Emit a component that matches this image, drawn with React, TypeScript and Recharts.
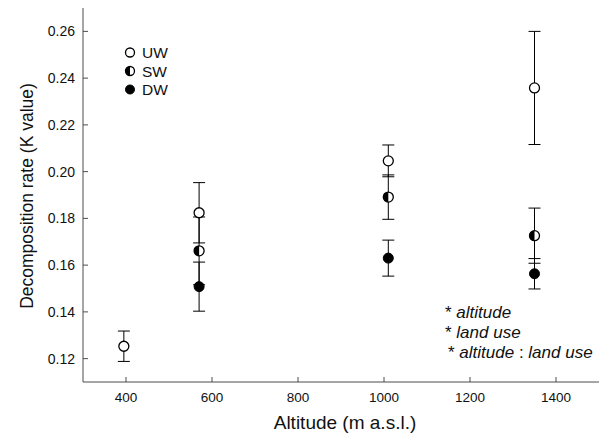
import { Customized, ErrorBar, Scatter, ScatterChart, XAxis, YAxis } from 'recharts';

const FONT = '"Liberation Sans", Arial, sans-serif';
const AXIS = '#4d4d4d';

// altitude (m a.s.l.), mean K value, standard error
const uwAltitude = [395, 570, 1010, 1350];
const uwMean = [0.1253, 0.1824, 0.2046, 0.2358];
const uwErr = [0.0065, 0.0129, 0.0068, 0.0242];

const swAltitude = [570, 1010, 1350];
const swMean = [0.1661, 0.1891, 0.1726];
const swErr = [0.0145, 0.0095, 0.0118];

const dwAltitude = [570, 1010, 1350];
const dwMean = [0.1508, 0.163, 0.1563];
const dwErr = [0.0105, 0.0077, 0.0065];

const xTicks = [400, 600, 800, 1000, 1200, 1400];
const yTicks = [0.12, 0.14, 0.16, 0.18, 0.2, 0.22, 0.24, 0.26];

const legendItems = [
  { label: 'UW', kind: 'open' },
  { label: 'SW', kind: 'half' },
  { label: 'DW', kind: 'filled' },
];

const toRows = (alt: number[], mean: number[], err: number[]) =>
  alt.map((a, i) => ({ alt: a, k: mean[i], err: err[i] }));

const uw = toRows(uwAltitude, uwMean, uwErr);
const sw = toRows(swAltitude, swMean, swErr);
const dw = toRows(dwAltitude, dwMean, dwErr);

type Kind = 'open' | 'half' | 'filled';

function Dot({ cx, cy, kind, r = 5 }: { cx: number; cy: number; kind: Kind; r?: number }) {
  if (kind === 'filled') {
    return <circle cx={cx} cy={cy} r={r} fill="#000" stroke="#000" strokeWidth={1} />;
  }
  return (
    <g>
      <circle cx={cx} cy={cy} r={r} fill="#fff" stroke="#000" strokeWidth={1.3} />
      {kind === 'half' && (
        <path d={`M${cx},${cy - r} A${r},${r} 0 0 0 ${cx},${cy + r} Z`} fill="#000" />
      )}
    </g>
  );
}

function Extras() {
  return (
    <g fontFamily={FONT} fill="#111">
      {legendItems.map((it, i) => (
        <g key={it.label}>
          <Dot cx={130} cy={52.5 + i * 18.5} kind={it.kind as Kind} r={4.5} />
          <text x={142} y={58 + i * 18.5} fontSize={15.5}>
            {it.label}
          </text>
        </g>
      ))}
      <text x={445} y={318} fontSize={17}>
        * <tspan fontStyle="italic">altitude</tspan>
      </text>
      <text x={445} y={338} fontSize={17}>
        * <tspan fontStyle="italic">land use</tspan>
      </text>
      <text x={448} y={357.5} fontSize={17}>
        * <tspan fontStyle="italic">altitude</tspan> : <tspan fontStyle="italic">land use</tspan>
      </text>
      <text x={345} y={429} fontSize={19} textAnchor="middle">
        Altitude (m a.s.l.)
      </text>
      <text
        x={33}
        y={196}
        fontSize={17.5}
        textAnchor="middle"
        transform="rotate(-90 33 196)"
      >
        Decomposition rate (K value)
      </text>
    </g>
  );
}

export default function App() {
  const xTick = { fill: '#111', fontSize: 13.5, fontFamily: FONT };
  const yTick = { fill: '#111', fontSize: 14, fontFamily: FONT };
  return (
    <div style={{ position: 'absolute', left: 0, top: 0, background: '#fff' }}>
      <ScatterChart width={602} height={436} margin={{ top: 8, right: 3, bottom: 0, left: 23 }}>
        <XAxis
          type="number"
          dataKey="alt"
          domain={[300, 1500]}
          ticks={xTicks}
          allowDataOverflow
          height={54}
          tickSize={-5}
          tickMargin={15}
          stroke={AXIS}
          tick={xTick}
        />
        <XAxis xAxisId="top" orientation="top" type="number" domain={[300, 1500]} height={0} tick={false} tickLine={false} stroke={AXIS} />
        <YAxis
          type="number"
          dataKey="k"
          domain={[0.11, 0.27]}
          ticks={yTicks}
          allowDataOverflow
          width={60}
          tickSize={-5}
          tickMargin={13}
          stroke={AXIS}
          tick={yTick}
          tickFormatter={(v: number) => v.toFixed(2)}
        />
        <YAxis yAxisId="right" orientation="right" type="number" domain={[0.11, 0.27]} width={0} tick={false} tickLine={false} stroke={AXIS} />
        <Scatter
          name="UW"
          data={uw}
          isAnimationActive={false}
          shape={(p: any) => <Dot cx={p.cx} cy={p.cy} kind="open" />}
        >
          <ErrorBar dataKey="err" direction="y" width={6} stroke="#000" strokeWidth={1} isAnimationActive={false} />
        </Scatter>
        <Scatter
          name="SW"
          data={sw}
          isAnimationActive={false}
          shape={(p: any) => <Dot cx={p.cx} cy={p.cy} kind="half" />}
        >
          <ErrorBar dataKey="err" direction="y" width={6} stroke="#000" strokeWidth={1} isAnimationActive={false} />
        </Scatter>
        <Scatter
          name="DW"
          data={dw}
          isAnimationActive={false}
          shape={(p: any) => <Dot cx={p.cx} cy={p.cy} kind="filled" />}
        >
          <ErrorBar dataKey="err" direction="y" width={6} stroke="#000" strokeWidth={1} isAnimationActive={false} />
        </Scatter>
        <Customized component={Extras} />
      </ScatterChart>
    </div>
  );
}
